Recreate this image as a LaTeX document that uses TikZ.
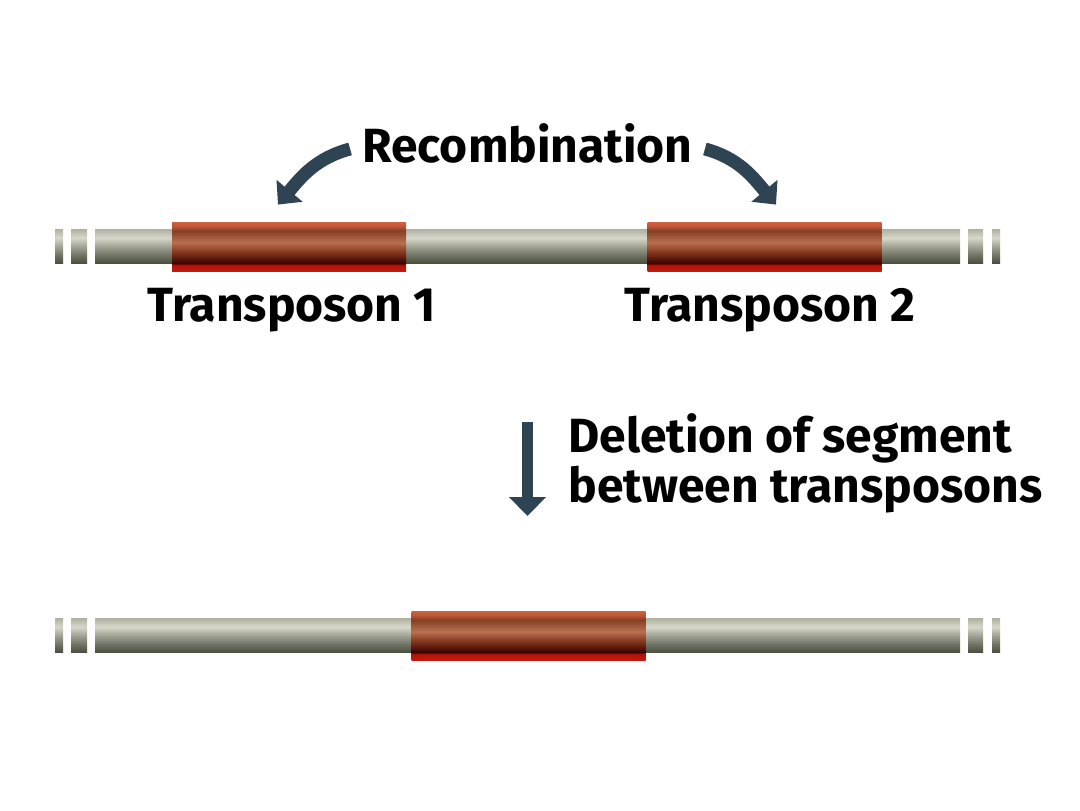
\documentclass[tikz,border=0pt]{standalone}
\usepackage{fontspec}
\setmainfont{Fira Sans}
\usepackage{tikz}
\usetikzlibrary{calc, arrows.meta, positioning}

\definecolor{rodA}{HTML}{4B5141}
\definecolor{rodB}{HTML}{6E7262}
\definecolor{rodC}{HTML}{A4A696}
\definecolor{rodD}{HTML}{D7D7CB}
\definecolor{rodE}{HTML}{B0B0A0}
\definecolor{tpA}{HTML}{C41A0C}
\definecolor{tpB}{HTML}{B01208}
\definecolor{tpC}{HTML}{3A0200}
\definecolor{tpD}{HTML}{8A3A20}
\definecolor{tpE}{HTML}{B87050}
\definecolor{tpF}{HTML}{843F24}
\definecolor{tpG}{HTML}{C05636}
\definecolor{tpH}{HTML}{D0623F}
\definecolor{arrowblue}{HTML}{2F4453}

\pgfdeclareverticalshading{rodshade}{100bp}{color(0bp)=(rodA); color(25bp)=(rodA); color(36bp)=(rodB); color(50bp)=(rodC); color(62bp)=(rodD); color(75bp)=(rodE); color(100bp)=(rodE)}
\pgfdeclareverticalshading{tpshade}{100bp}{color(0bp)=(tpA); color(25bp)=(tpA); color(31bp)=(tpB); color(33bp)=(tpC); color(45bp)=(tpD); color(54bp)=(tpE); color(66bp)=(tpF); color(71bp)=(tpG); color(75bp)=(tpH); color(100bp)=(tpH)}

\begin{document}
\begin{tikzpicture}[x=0.5pt, y=0.5pt,
    rod piece/.style={shade, shading=rodshade},
    transposon/.style={shade, shading=tpshade, minimum width=117pt, minimum height=24.5pt, inner sep=0pt},
    label text/.style={font=\bfseries\fontsize{24}{22}\selectfont, inner sep=0pt},
    bend arrow/.style={draw=arrowblue, line width=6.5pt, -{Triangle[width=16.5pt, length=9pt]}},
    down arrow/.style={draw=arrowblue, line width=5.5pt, -{Triangle[width=18pt, length=9.5pt]}}]
    \useasboundingbox (0,0) rectangle (1080,-810);

    \foreach \a/\b in {55/63, 71/87, 95/960, 968/983, 992/1000} {
        \path[rod piece] (\a,-229) rectangle (\b,-263);
        \path[rod piece] (\a,-618) rectangle (\b,-652);
    }

    \node[transposon] (tpone) at (289,-246.5) {};
    \node[transposon] (tptwo) at (764.5,-246.5) {};
    \node[transposon] (merged) at (528.5,-635.5) {};

    \node[label text, anchor=base] (recomb) at (527.5,-162) {Recombination};
    \node[label text, anchor=base] (tponelabel) at (292,-321) {Transposon 1};
    \node[label text, anchor=base] (tptwolabel) at (770,-321) {Transposon 2};
    \node[label text, anchor=base west, align=left] (deletion) at (568,-502) {Deletion of segment\\between transposons};

    \coordinate (deltop) at (527.5,-422);
    \coordinate (delbottom) at (527.5,-516);

    \draw[bend arrow] ([xshift=-6pt, yshift=-3pt]recomb.west) to[out=195, in=50] ($(tpone.north)+(-11,17)$);
    \draw[bend arrow] ([xshift=6pt, yshift=-3pt]recomb.east) to[out=-15, in=130] ($(tptwo.north)+(11.5,17)$);
    \draw[down arrow] (deltop) -- (delbottom);
\end{tikzpicture}
\end{document}
